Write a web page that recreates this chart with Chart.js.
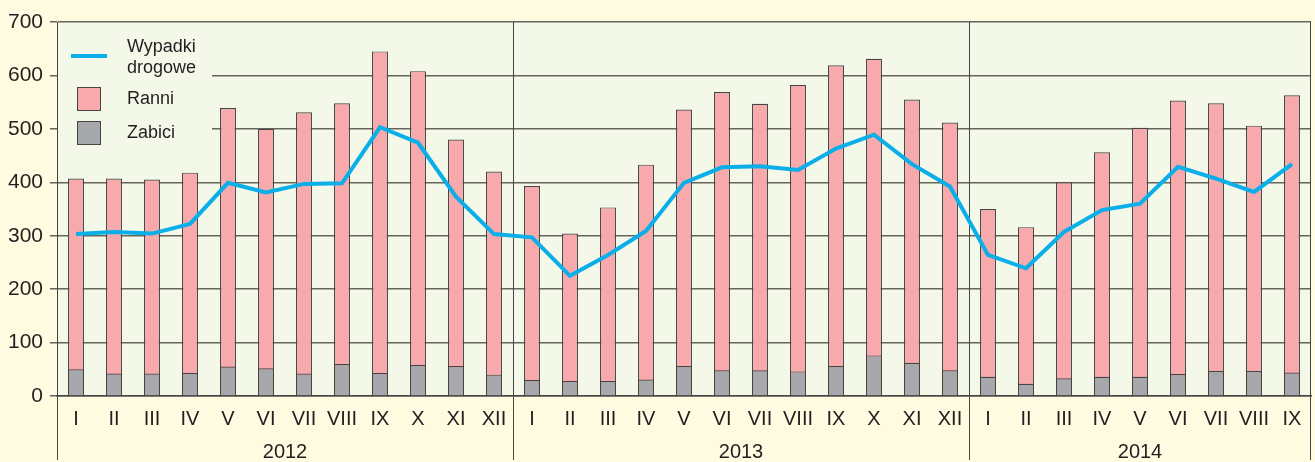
<!DOCTYPE html>
<html>
<head>
<meta charset="utf-8">
<script src="https://cdn.jsdelivr.net/npm/chart.js@4/dist/chart.umd.min.js"></script>
<style>
  body { margin: 0; background: #fefbe0; }
  canvas { display: block; }
</style>
</head>
<body>
<canvas id="chart" width="1315" height="462"></canvas>
<script>
// data
const months = ['I','II','III','IV','V','VI','VII','VIII','IX','X','XI','XII',
                'I','II','III','IV','V','VI','VII','VIII','IX','X','XI','XII',
                'I','II','III','IV','V','VI','VII','VIII','IX'];
const years = ['2012', '2013', '2014'];
const monthsPerYear = [12, 12, 9];

const ranni = [407, 407, 405, 418, 539, 500, 531, 548, 645, 608, 480, 420,
               393, 304, 353, 433, 536, 569, 547, 582, 619, 631, 555, 512,
               350, 316, 400, 456, 502, 553, 548, 506, 563];
const zabici = [50, 42, 42, 43, 55, 52, 42, 60, 43, 58, 56, 40,
                30, 28, 28, 31, 56, 48, 48, 46, 56, 76, 62, 48,
                36, 23, 33, 36, 36, 41, 47, 47, 44];
const wypadki = [303, 307, 304, 322, 399, 381, 397, 398, 503, 474, 373, 303,
                 297, 225, 264, 309, 399, 428, 430, 423, 463, 489, 434, 392,
                 264, 239, 307, 348, 360, 429, 407, 382, 434];
const yTicks = [0, 100, 200, 300, 400, 500, 600, 700];

const FONT = '"Liberation Sans", Arial, sans-serif';
const TEXT = '#231f20';
const PLOT_BG = '#f4f8e9';
const LINE_C = '#0aaee8';
const RANNI_C = '#f7a9ac';
const ZABICI_C = '#a7a8ac';
const EDGE_C = '#454543';

function yearBounds(x) {
   // pixel edges of each year block on the category axis
   var edges = [x.left];
   var idx = 0;
   for (var i = 0; i < monthsPerYear.length - 1; i++) {
      idx += monthsPerYear[i];
      edges.push((x.getPixelForTick(idx - 1) + x.getPixelForTick(idx)) / 2);
   }
   edges.push(x.right);
   return edges;
}

const framePlugin = {
   id: 'frame',
   beforeDraw: function (chart) {
      const a = chart.chartArea;
      const ctx = chart.ctx;
      ctx.save();
      ctx.fillStyle = PLOT_BG;
      ctx.fillRect(a.left, a.top, a.right - a.left, a.bottom - a.top);
      ctx.restore();
   },
   beforeDatasetsDraw: function (chart) {
      const a = chart.chartArea;
      const ctx = chart.ctx;
      ctx.save();
      // legend box hides the grid lines behind it
      ctx.fillStyle = PLOT_BG;
      ctx.fillRect(a.left + 1, a.top + 2, 154, 150);
      // year separators inside the plot
      const edges = yearBounds(chart.scales.x);
      ctx.strokeStyle = EDGE_C;
      ctx.lineWidth = 1;
      for (var i = 1; i < edges.length - 1; i++) {
         const ex = Math.round(edges[i]) + 0.5;
         ctx.beginPath();
         ctx.moveTo(ex, a.top);
         ctx.lineTo(ex, a.bottom);
         ctx.stroke();
      }
      // legend
      ctx.fillStyle = TEXT;
      ctx.font = '18px ' + FONT;
      ctx.textBaseline = 'middle';
      ctx.textAlign = 'left';
      ctx.strokeStyle = LINE_C;
      ctx.lineWidth = 4;
      ctx.beginPath();
      ctx.moveTo(71, 56);
      ctx.lineTo(107, 56);
      ctx.stroke();
      ctx.fillText('Wypadki', 127, 47);
      ctx.fillText('drogowe', 127, 68);
      ctx.lineWidth = 1;
      ctx.strokeStyle = EDGE_C;
      ctx.fillStyle = RANNI_C;
      ctx.fillRect(77.5, 87.5, 23, 23);
      ctx.strokeRect(77.5, 87.5, 23, 23);
      ctx.fillStyle = ZABICI_C;
      ctx.fillRect(77.5, 121.5, 23, 23);
      ctx.strokeRect(77.5, 121.5, 23, 23);
      ctx.fillStyle = TEXT;
      ctx.fillText('Ranni', 127, 99);
      ctx.fillText('Zabici', 127, 133);
      ctx.restore();
   },
   afterDraw: function (chart) {
      const a = chart.chartArea;
      const ctx = chart.ctx;
      const edges = yearBounds(chart.scales.x);
      ctx.save();
      ctx.strokeStyle = EDGE_C;
      ctx.lineWidth = 1;
      for (var i = 0; i < edges.length; i++) {
         const ex = Math.round(edges[i]) + (i === edges.length - 1 ? -0.5 : 0.5);
         ctx.beginPath();
         ctx.moveTo(ex, i === 0 || i === edges.length - 1 ? a.top : a.bottom);
         ctx.lineTo(ex, 460);
         ctx.stroke();
      }
      ctx.fillStyle = TEXT;
      ctx.font = '20px ' + FONT;
      ctx.textAlign = 'center';
      ctx.textBaseline = 'middle';
      for (var j = 0; j < years.length; j++) {
         ctx.fillText(years[j], (edges[j] + edges[j + 1]) / 2, 452);
      }
      ctx.restore();
   }
};

const config = {
   data: {
      labels: months,
      datasets: [{
         type: 'line',
         label: 'Wypadki drogowe',
         data: wypadki,
         borderColor: LINE_C,
         borderWidth: 4,
         pointRadius: 0,
         tension: 0,
         order: 0
      }, {
         type: 'bar',
         label: 'Zabici',
         data: zabici,
         backgroundColor: ZABICI_C,
         borderColor: EDGE_C,
         borderWidth: 1.2,
         grouped: false,
         barPercentage: 0.42,
         categoryPercentage: 1,
         order: 1
      }, {
         type: 'bar',
         label: 'Ranni',
         data: ranni,
         backgroundColor: RANNI_C,
         borderColor: EDGE_C,
         borderWidth: 1.2,
         grouped: false,
         barPercentage: 0.42,
         categoryPercentage: 1,
         order: 2
      }]
   },
   options: {
      responsive: false,
      animation: false,
      layout: { padding: { top: 22, right: 4, left: 0, bottom: 0 } },
      plugins: {
         legend: { display: false },
         tooltip: { enabled: false }
      },
      scales: {
         x: {
            offset: true,
            grid: { display: false, drawTicks: false },
            border: { display: true, color: EDGE_C, width: 1.5 },
            ticks: {
               color: TEXT,
               font: { family: FONT, size: 20 },
               padding: 11,
               maxRotation: 0,
               autoSkip: false
            },
            afterFit: function (scale) { scale.height = 66; }
         },
         y: {
            min: 0,
            max: 700,
            afterBuildTicks: function (scale) {
               scale.ticks = yTicks.map(function (v) { return { value: v }; });
            },
            grid: {
               color: '#65655c',
               lineWidth: 1.5,
               tickLength: 7,
               drawTicks: true
            },
            border: { display: true, color: EDGE_C, width: 1 },
            ticks: {
               color: TEXT,
               font: { family: FONT, size: 21 },
               padding: 7
            },
            afterFit: function (scale) { scale.width = 57; }
         }
      }
   },
   plugins: [framePlugin]
};

const myChart = new Chart(document.getElementById('chart'), config);
</script>
</body>
</html>
